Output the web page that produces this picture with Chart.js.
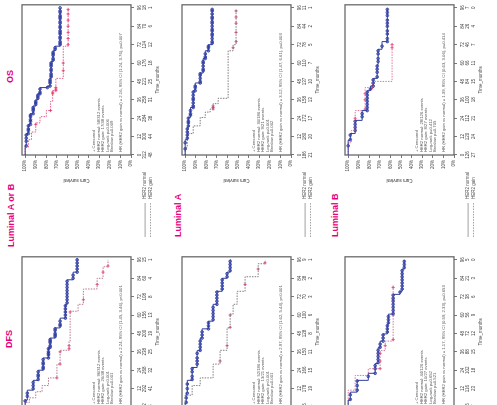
<!DOCTYPE html>
<html><head><meta charset="utf-8">
<script src="https://cdn.jsdelivr.net/npm/chart.js@4.4.1/dist/chart.umd.min.js"></script>
<style>
html,body{margin:0;padding:0;background:#fff;overflow:hidden;width:497px;height:405px}
#fig{position:absolute;left:0;top:0;width:405px;height:497px;transform-origin:0 0;transform:translate(0px,405px) rotate(-90deg);overflow:hidden;background:#fff}
.lab{position:absolute;font:bold 9px "Liberation Sans",Arial,sans-serif;color:#e5007d;white-space:nowrap;line-height:12px;height:12px}
canvas{position:absolute}
</style></head><body>
<div id="fig">
  <div class="lab" style="left:57px;top:3px">DFS</div>
  <div class="lab" style="left:158px;top:5px">Luminal A or B</div>
  <div class="lab" style="left:322px;top:4px">OS</div>
  <div class="lab" style="left:168px;top:172px">Luminal A</div>
  <div class="lab" style="left:168px;top:329px">Luminal B</div>
</div>
<script>
// ---- axis ticks ----
const timeTicks = [0, 12, 24, 36, 48, 60, 72, 84, 96];
const survTicks = [0, 10, 20, 30, 40, 50, 60, 70, 80, 90, 100];
const groupNames = ['HER2 normal', 'HER2 gain'];

// ---- OS, Luminal A or B : [months, survival %] ----
const osAB_normal = [[0,100],[6,99],[14,97],[20,95],[27,92.4],[32,90],[36,88],[40,86],[44,79],[45,76.5],[50,75.5],[61,73.6],[68,71.7],[71,67],[96,67]];
const osAB_gain = [[0,100],[5,97],[10,94],[15,90],[21,86],[25,80],[29,76],[35,74],[42,71],[50,64],[71,59.4],[95,59.4]];
const osAB_censN = [6,9,11,13,14,16,17,19,20,22,23,25,26,27,29,30,31,33,34,35,37,38,39,40,41,43,44,45,47,48,49,51,52,53,55,56,58,59,60,62,63,65,66,67,69,70,72,73,74,76,77,79,80,81,83,84,86,87,89,90,91,93,94,96];
const osAB_censG = [20,29,40,41,42,43,44,55,60,72,76,80,84,88,92,95];
const osAB_riskN = [312,300,284,258,221,176,124,70,18];
const osAB_riskG = [48,44,38,31,25,18,12,6,1];

// ---- OS, Luminal A ----
const osA_normal = [[0,100],[10,98],[18,97],[24.5,95],[31,92.4],[42,90.5],[47,85.8],[53.5,83],[63,81],[68,78],[72,74.5],[95,74.5]];
const osA_gain = [[0,100],[5,98],[14,92.4],[19,85.8],[24.5,81],[28,76.4],[30,73.6],[33.5,68.8],[37,59.4],[68,54.7],[72,51.9],[95,51.9]];
const osA_censN = [4,8,11,13,15,17,19,21,22,24,26,27,29,31,32,34,36,37,39,41,42,44,45,47,48,50,52,53,55,56,58,60,61,63,64,66,68,70,71,73,74,76,78,79,81,82,84,86,87,89,90,92,94,95];
const osA_censG = [30,31,32,70,74,80,86,90,94];
const osA_riskN = [186,180,172,158,137,110,78,44,11];
const osA_riskG = [21,20,17,13,10,7,5,2,1];

// ---- OS, Luminal B ----
const osB_normal = [[0,100],[9.7,98],[14,93.4],[22.6,86.8],[29,82],[42,79],[45,76.4],[50,72.6],[59,71.7],[69,68],[74,63],[95.5,63]];
const osB_gain = [[0,100],[8,97],[16,93.4],[29,84],[44,77],[48,58.5],[73,58.5]];
const osB_censN = [6,10,13,16,18,20,22,25,27,29,31,33,35,37,39,41,43,45,47,49,51,54,56,58,61,63,66,68,71,74,76,79,81,84,86,88,91,93,95];
const osB_censG = [24,30,36,40,44,70,72];
const osB_riskN = [126,120,112,100,84,66,46,26,7];
const osB_riskG = [27,24,21,18,15,11,7,4,0];

// ---- DFS, Luminal A or B ----
const dfsAB_normal = [[0,100],[4.5,98],[11,92.4],[17.4,87.7],[24,83],[32,78],[38.7,76.4],[45,71.7],[51.6,67],[58,62],[67,60.4],[83,54.7],[88,50.9],[97,50.9]];
const dfsAB_gain = [[0,100],[3,96],[6,90],[10,84],[14,78],[19,70],[28,67],[37,58.5],[43,57.5],[62.5,50],[67,45],[77,32],[84,26.4],[91.5,21.7],[96,21.7]];
const dfsAB_censN = [4,7,9,12,14,16,18,20,21,23,25,26,28,29,31,32,34,35,36,38,39,40,42,43,44,46,47,48,50,51,53,54,56,58,60,62,64,66,68,70,72,74,76,78,80,82,84,86,88,90,92,94,96];
const dfsAB_censG = [19,28,36,38,40,62,70,80,88,92];
const dfsAB_riskN = [312,292,268,238,200,156,108,60,15];
const dfsAB_riskG = [48,41,32,25,19,13,8,4,1];

// ---- DFS, Luminal A ----
const dfsA_normal = [[0,100],[2.6,99],[9,98],[17.4,93.4],[25.8,88.7],[36.8,85.8],[45,84],[51,78],[56,73.6],[67,70],[75.5,65],[84,60.4],[88,57.5],[96,56.6]];
const dfsA_gain = [[0,100],[7.7,93.4],[14,85.8],[19,73.6],[28,67],[37,60.4],[51.6,57.5],[60.6,54.7],[67,50.9],[75.5,43.4],[85,31],[93.5,24.5],[96,24.5]];
const dfsA_censN = [3,6,9,12,15,18,20,23,25,28,30,32,35,37,39,41,43,45,47,49,51,53,55,57,59,61,63,65,67,69,71,73,75,77,79,81,83,85,87,89,91,93,95];
const dfsA_censG = [30,40,52,60,80,90,94];
const dfsA_riskN = [186,178,166,150,128,100,70,38,9];
const dfsA_riskG = [21,19,15,11,8,6,3,2,1];

// ---- DFS, Luminal B ----
const dfsB_normal = [[0,100],[4.5,98],[9.7,91.5],[17.4,81],[22,74.5],[28.4,71.7],[38.7,69.8],[43,67],[47.7,63],[54,62],[60.6,57.5],[73.5,51],[75.5,49],[90,47],[96,47]];
const dfsB_gain = [[0,100],[11,93.4],[20.6,81],[25,69.8],[36.8,65],[43,57.5],[80,57.5]];
const dfsB_censN = [5,8,11,14,17,20,22,25,27,29,31,33,35,37,39,41,43,45,47,49,51,53,55,57,59,61,63,65,67,69,71,73,75,77,79,81,83,85,87,89,91,93,95];
const dfsB_censG = [25,30,35,40,44,60,70,78];
const dfsB_riskN = [126,116,102,88,72,56,38,21,5];
const dfsB_riskG = [27,23,18,15,12,9,6,3,0];

const panels = [
  {col:'os', row:0, normal:osAB_normal, gain:osAB_gain, censN:osAB_censN, censG:osAB_censG, riskN:osAB_riskN, riskG:osAB_riskG, gainColor:'#e04a7a',
   text:['+ Censored','HER2 normal: 58/312 events','HER2 gain: 17/48 events','Log-rank p=0.006','Breslow p=0.009','HR (HER2 gain vs normal) = 2.16, 95% CI (1.24, 3.76), p=0.007']},
  {col:'os', row:1, normal:osA_normal, gain:osA_gain, censN:osA_censN, censG:osA_censG, riskN:osA_riskN, riskG:osA_riskG, gainColor:'#6e6e6e',
   text:['+ Censored','HER2 normal: 30/186 events','HER2 gain: 9/21 events','Log-rank p=0.001','Breslow p=0.002','HR (HER2 gain vs normal) = 3.12, 95% CI (1.47, 6.61), p=0.003']},
  {col:'os', row:2, normal:osB_normal, gain:osB_gain, censN:osB_censN, censG:osB_censG, riskN:osB_riskN, riskG:osB_riskG, gainColor:'#e06a90',
   text:['+ Censored','HER2 normal: 28/126 events','HER2 gain: 8/27 events','Log-rank p=0.412','Breslow p=0.705','HR (HER2 gain vs normal) = 1.39, 95% CI (0.63, 3.06), p=0.414']},
  {col:'dfs', row:0, normal:dfsAB_normal, gain:dfsAB_gain, censN:dfsAB_censN, censG:dfsAB_censG, riskN:dfsAB_riskN, riskG:dfsAB_riskG, gainColor:'#b06a88',
   text:['+ Censored','HER2 normal: 96/312 events','HER2 gain: 26/48 events','Log-rank p<0.001','Breslow p=0.001','HR (HER2 gain vs normal) = 2.24, 95% CI (1.45, 3.46), p<0.001']},
  {col:'dfs', row:1, normal:dfsA_normal, gain:dfsA_gain, censN:dfsA_censN, censG:dfsA_censG, riskN:dfsA_riskN, riskG:dfsA_riskG, gainColor:'#707070',
   text:['+ Censored','HER2 normal: 52/186 events','HER2 gain: 13/21 events','Log-rank p<0.001','Breslow p=0.001','HR (HER2 gain vs normal) = 2.97, 95% CI (1.62, 5.44), p<0.001']},
  {col:'dfs', row:2, normal:dfsB_normal, gain:dfsB_gain, censN:dfsB_censN, censG:dfsB_censG, riskN:dfsB_riskN, riskG:dfsB_riskG, gainColor:'#d06a90',
   text:['+ Censored','HER2 normal: 44/126 events','HER2 gain: 10/27 events','Log-rank p=0.652','Breslow p=0.521','HR (HER2 gain vs normal) = 1.17, 95% CI (0.59, 2.33), p=0.653']}
];

const FONT = '"Liberation Sans", Arial, sans-serif';
const plotTops = [22, 182, 345];
const colLeft = {os: 150, dfs: -102};

function sAt(curve, t) {
  let s = curve[0][1];
  for (const p of curve) { if (p[0] <= t) s = p[1]; }
  return s;
}

const panelPlugin = {
  id: 'panelDecor',
  beforeDatasetsDraw(chart) {
    const ca = chart.chartArea, ctx = chart.ctx;
    ctx.save();
    ctx.strokeStyle = '#6a6a6a'; ctx.lineWidth = 1.3;
    ctx.strokeRect(ca.left, ca.top, ca.right - ca.left, ca.bottom - ca.top);
    const p = chart.options.plugins.panelDecor;
    ctx.fillStyle = '#555';
    ctx.font = '4.2px ' + FONT;
    ctx.textBaseline = 'middle';
    const offs = [72, 76.5, 81, 85.5, 90, 98.5];
    p.text.forEach((t, i) => ctx.fillText(t, ca.left + 3, ca.top + offs[i]));
    // at-risk row legend
    ctx.font = '4.5px ' + FONT;
    const rows = [ca.bottom + 14.1, ca.bottom + 19.5];
    rows.forEach((y, i) => {
      ctx.strokeStyle = '#8a8a8a'; ctx.lineWidth = 0.8;
      ctx.setLineDash(i === 0 ? [] : [1.5, 1.2]);
      ctx.beginPath(); ctx.moveTo(ca.left - 82, y); ctx.lineTo(ca.left - 48, y); ctx.stroke();
      ctx.setLineDash([]);
      ctx.fillStyle = '#555';
      ctx.fillText(groupNames[i], ca.left - 44, y);
    });
    ctx.restore();
  }
};

panels.forEach((p, k) => {
  const cv = document.createElement('canvas');
  cv.width = 255; cv.height = 150;
  cv.style.left = colLeft[p.col] + 'px';
  cv.style.top = (plotTops[p.row] - 10) + 'px';
  document.getElementById('fig').appendChild(cv);
  const toXY = c => c.map(q => ({x: q[0], y: q[1]}));
  new Chart(cv.getContext('2d'), {
    type: 'line',
    data: {
      datasets: [
        {data: toXY(p.normal), stepped: true, borderColor: '#2f3e9e', borderWidth: 1, pointRadius: 0, fill: false},
        {data: toXY(p.gain), stepped: true, borderColor: p.gainColor, borderWidth: 0.9, borderDash: [1.5, 1.2], pointRadius: 0, fill: false},
        {data: p.censN.map(t => ({x: t, y: sAt(p.normal, t)})), showLine: false, pointStyle: 'circle', pointRadius: 1.35,
         pointBorderColor: '#28339a', pointBackgroundColor: 'rgba(80,100,200,0.6)', pointBorderWidth: 0.8},
        {data: p.censG.map(t => ({x: t, y: sAt(p.gain, t)})), showLine: false, pointStyle: 'cross', pointRadius: 1.6,
         pointBorderColor: '#e8306a', pointBorderWidth: 0.8}
      ]
    },
    options: {
      responsive: false, animation: false, events: [],
      layout: {padding: {left: 72, right: 3, top: 10, bottom: 2}},
      plugins: {legend: {display: false}, tooltip: {enabled: false}, panelDecor: {text: p.text}},
      scales: {
        x: {
          type: 'linear', min: 0, max: 98,
          afterBuildTicks: s => { s.ticks = timeTicks.map(v => ({value: v})); },
          afterFit: s => { s.height = 29; },
          border: {display: false},
          grid: {display: true, drawOnChartArea: false, drawTicks: true, tickLength: 3, color: '#555', lineWidth: 0.8},
          ticks: {autoSkip: false, maxRotation: 0, minRotation: 0, padding: 3, color: '#444',
                  font: {family: FONT, size: 4.5, lineHeight: 1.2},
                  callback: (v, i) => [String(timeTicks[i]), String(p.riskN[i]), String(p.riskG[i])]},
          title: {display: true, text: 'Time_months', color: '#444', font: {family: FONT, size: 4.5}, padding: {top: 1, bottom: 0}}
        },
        y: {
          type: 'linear', min: 0, max: 103,
          afterBuildTicks: s => { s.ticks = survTicks.map(v => ({value: v})); },
          afterFit: s => { s.width = 28; },
          border: {display: false},
          grid: {display: true, drawOnChartArea: false, drawTicks: true, tickLength: 3, color: '#555', lineWidth: 0.8},
          ticks: {padding: 2, color: '#444', font: {family: FONT, size: 4.5}, callback: v => v + '%'},
          title: {display: true, text: 'Cum survival', color: '#444', font: {family: FONT, size: 4.5}, padding: {top: 0, bottom: 0}}
        }
      }
    },
    plugins: [panelPlugin]
  });
});
</script>
</body></html>
